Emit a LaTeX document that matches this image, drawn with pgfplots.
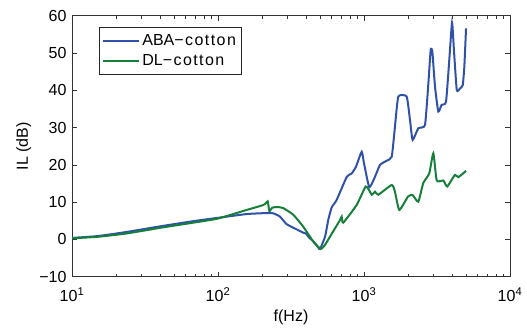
\documentclass[border=0pt]{standalone}
\usepackage{fontspec}
\setmainfont{Liberation Sans}
\usepackage{pgfplots}
\pgfplotsset{compat=1.18}
\definecolor{cblue}{HTML}{2F52A8}
\definecolor{cgreen}{HTML}{16803A}
\newcommand{\wide}[1]{{\addfontfeature{LetterSpace=9}#1}}
\begin{document}
\fontsize{16bp}{19bp}\selectfont
\begin{tikzpicture}
\begin{axis}[name=ax,
  scale only axis, width=438bp, height=261bp,
  xmode=log, xmin=10, xmax=10000, ymin=-10, ymax=60,
  xtick={10,100,1000,10000},
  xticklabels={10\textsuperscript{1},10\textsuperscript{2},10\textsuperscript{3},10\textsuperscript{4}},
  xticklabel style={anchor=base, yshift=-25bp},
  ytick={-10,0,10,20,30,40,50,60},
  yticklabels={−10,0,10,20,30,40,50,60},
  tick align=inside, major tick length=5bp, minor tick length=3bp,
  tick style={line width=0.6pt, color=black!80},
  axis line style={line width=0.8pt, color=black!80},
  xlabel={f(Hz)}, ylabel={IL (dB)},
  xlabel style={at={(axis description cs:0.5,-0.170)}, anchor=base},
  ylabel style={at={(axis description cs:-0.1005,0.5)}, anchor=base},
  legend style={at={(rel axis cs:0.062,0.958)}, anchor=north west, draw=black!85, line width=0.8pt, inner xsep=3bp, inner ysep=5bp, row sep=3bp, font=\fontsize{16bp}{19bp}\selectfont},
  legend cell align=left,
  legend image code/.code={\draw[#1, line width=1.8bp] (0bp,0bp) -- (36bp,0bp);},
]
\addplot[cblue, line width=2bp, smooth, tension=0.3] coordinates {
(10,0.4) (15,0.9) (23.7,2.0) (40,3.5) (67.8,4.9) (100,5.8) (157,6.8) (210,7.05) (239,7.0) (266,6.1) (295,4.1) (346,2.7) (384,1.8) (400,1.6) (420,0.5) (450,-0.5) (487,-2.2) (500,-2.6) (541,0.75) (569,5.2) (601,8.6) (650,10.6) (762,16.8) (824,17.7) (881,19.5) (964,23.5) (1000,20.4) (1087,14.0) (1189,16.8) (1288,20.0) (1429,21.1) (1549,22.2) (1629,30.2) (1718,38.3) (1960,38.3) (2066,32.0) (2153,26.7) (2354,29.8) (2616,30.7) (2760,41.9) (2862,50.8) (2939,50.3) (3064,41.0) (3228,34.3) (3403,36.1) (3645,36.9) (3838,48.1) (4009,58.1) (4130,50.8) (4318,40.1) (4550,40.5) (4746,41.4) (4866,46.3) (4998,56.6)
};
\addlegendentry{ABA\wide{−cotton}}
\addplot[cgreen, line width=2bp, smooth, tension=0.3] coordinates {
(10,0.3) (15,0.7) (23.7,1.6) (40,3.1) (67.8,4.5) (100,5.6) (157,7.9) (200,9.1) (210,9.5) (219,10.2) (225,7.6) (235,8.5) (255,8.7) (280,8.4) (328,6.6) (384,3.4) (450,-0.6) (505,-2.55) (540,-1.5) (585,0.75) (685,5.2) (703,6.1) (721,4.5) (891,9.25) (1030,14.2) (1130,12.0) (1189,12.8) (1254,12.0) (1549,14.6) (1629,12.8) (1745,7.9) (2003,11.5) (2153,11.9) (2354,10.1) (2545,15.1) (2798,17.7) (2985,23.1) (3149,15.8) (3493,15.8) (3718,14.2) (4194,17.3) (4426,16.7) (4998,18.4)
};
\addlegendentry{DL\wide{−cotton}}
\end{axis}
\pgfresetboundingbox
\path[use as bounding box] ([shift={(-72bp,-54.3bp)}]ax.south west) rectangle ([shift={(17bp,15.7bp)}]ax.north east);
\end{tikzpicture}
\end{document}
